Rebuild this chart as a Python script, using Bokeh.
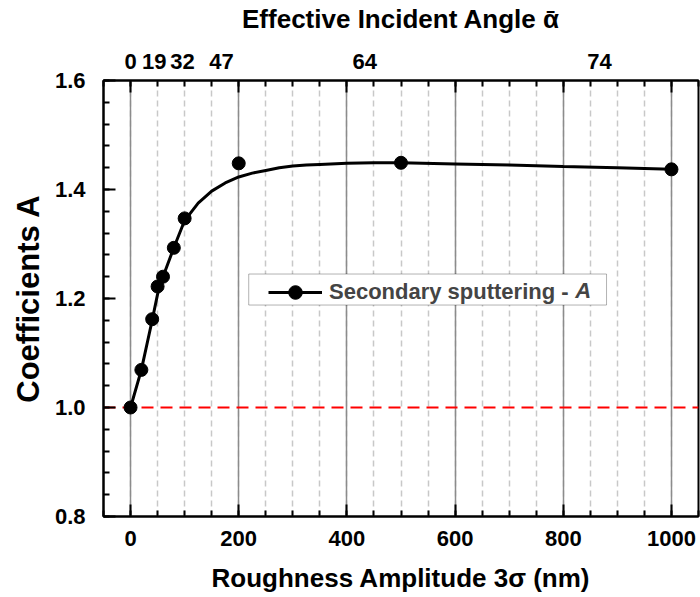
from bokeh.plotting import figure
from bokeh.models import (Range1d, LinearAxis, SingleIntervalTicker, FixedTicker, Label,
                          Span, Legend, LegendItem, BoxAnnotation, NumeralTickFormatter)
from bokeh.embed import file_html
from bokeh.resources import INLINE

# ---- data ----
x_meas = [0, 20, 40, 50, 60, 80, 100, 200, 500, 1000]
a_meas = [1.000, 1.069, 1.162, 1.222, 1.240, 1.293, 1.347, 1.448, 1.449, 1.437]
x_fit = [0, 20, 40, 50, 60, 80, 100, 125, 150, 175, 200, 225, 250, 275, 300, 325,
         350, 400, 450, 500, 600, 700, 800, 900, 1000]
a_fit = [1.000, 1.069, 1.160, 1.208, 1.240, 1.293, 1.343, 1.375, 1.397, 1.412,
         1.423, 1.430, 1.435, 1.440, 1.443, 1.445, 1.446, 1.448, 1.449, 1.449,
         1.447, 1.445, 1.442, 1.440, 1.437]
angle_pos = [0, 44, 96, 168, 433, 867]
angle_labels = ["0", "19", "32", "47", "64", "74"]
x_major = [0, 200, 400, 600, 800, 1000]
ref_level = 1.0

FONT = "Liberation Sans"
TICK_FS = "22px"
TITLE_FS = "26px"

p = figure(width=700, height=597, output_backend="svg", toolbar_location=None,
           x_range=Range1d(-50, 1050), y_range=Range1d(0.8, 1.6),
           min_border_left=103, min_border_right=2, min_border_top=79,
           min_border_bottom=81)
p.outline_line_color = "black"
p.outline_line_width = 2
p.background_fill_color = "white"


def style_axis(ax):
    ax.axis_line_width = 2
    ax.axis_line_color = "black"
    ax.major_tick_in = 12
    ax.major_tick_out = 0
    ax.minor_tick_in = 6
    ax.minor_tick_out = 0
    ax.major_tick_line_width = 2
    ax.minor_tick_line_width = 2
    ax.major_tick_line_color = "black"
    ax.minor_tick_line_color = "black"
    ax.major_label_text_font = FONT
    ax.major_label_text_font_style = "bold"
    ax.major_label_text_font_size = TICK_FS
    ax.major_label_text_color = "black"
    ax.axis_label_text_font = FONT
    ax.axis_label_text_font_style = "bold"
    ax.axis_label_text_font_size = TITLE_FS
    ax.axis_label_text_color = "black"


xt = SingleIntervalTicker(interval=200, num_minor_ticks=4)
p.xaxis.ticker = xt
p.xgrid.ticker = xt
style_axis(p.xaxis[0])
p.xaxis.major_label_standoff = 14
p.xaxis.axis_label = "Roughness Amplitude 3\u03c3 (nm)"
p.xaxis.axis_label_standoff = 14

yt = SingleIntervalTicker(interval=0.2, num_minor_ticks=5)
p.yaxis.ticker = yt
p.yaxis.formatter = NumeralTickFormatter(format="0.0")
style_axis(p.yaxis[0])
p.yaxis.major_label_standoff = 18
p.yaxis.axis_label = "Coefficients A"
p.yaxis.axis_label_text_font_size = "31px"
p.yaxis.axis_label_standoff = 6

# inner top axis: tick marks only
top_ticks = LinearAxis(ticker=SingleIntervalTicker(interval=200, num_minor_ticks=4),
                       major_label_overrides={v: "" for v in x_major})
style_axis(top_ticks)
top_ticks.major_label_text_font_size = "0px"
top_ticks.major_label_standoff = 0
p.add_layout(top_ticks, "above")

# outer top axis: effective incident angle labels
top_lab = LinearAxis(ticker=FixedTicker(ticks=angle_pos, minor_ticks=[]),
                     major_label_overrides=dict(zip(angle_pos, angle_labels)))
style_axis(top_lab)
top_lab.axis_line_color = None
top_lab.major_tick_in = 0
top_lab.minor_tick_in = 0
top_lab.major_tick_line_color = None
top_lab.minor_tick_line_color = None
top_lab.major_label_standoff = 12
top_lab.axis_label = "Effective Incident Angle \u1fb1"
top_lab.axis_label_standoff = 17
p.add_layout(top_lab, "above")

p.ygrid.visible = False
p.xgrid.grid_line_color = "#8c8c8c"
p.xgrid.grid_line_width = 1.5
p.xgrid.minor_grid_line_color = "#c8c8c8"
p.xgrid.minor_grid_line_width = 1.5
p.xgrid.minor_grid_line_dash = "6 4"

ref = Span(location=ref_level, dimension="width", line_color="#ff0000",
           line_width=2, line_dash="12 7", level="underlay")
p.add_layout(ref)

r_line = p.line(x_fit, a_fit, line_color="black", line_width=3)
r_pts = p.scatter(x_meas, a_meas, size=13, fill_color="black", line_color="black")

# legend box
box = BoxAnnotation(left=218.5, right=880, bottom=1.188, top=1.2449,
                    fill_color="white", fill_alpha=1.0, line_color="black",
                    line_width=1)
p.add_layout(box)
legend = Legend(items=[LegendItem(label="Secondary sputtering -",
                                  renderers=[r_line, r_pts])],
                location=(165, 207), padding=0, margin=0, spacing=0,
                glyph_width=54, glyph_height=34, label_standoff=7,
                label_text_font=FONT, label_text_font_size="22px",
                label_text_font_style="bold", border_line_color=None,
                background_fill_alpha=0)
p.add_layout(legend)
p.add_layout(Label(x=822, y=1.215, text="A", text_font=FONT, text_font_size="22px",
                   text_font_style="bold italic", text_baseline="middle",
                   text_align="left"))

open("out.html", "w").write(file_html(p, INLINE))
